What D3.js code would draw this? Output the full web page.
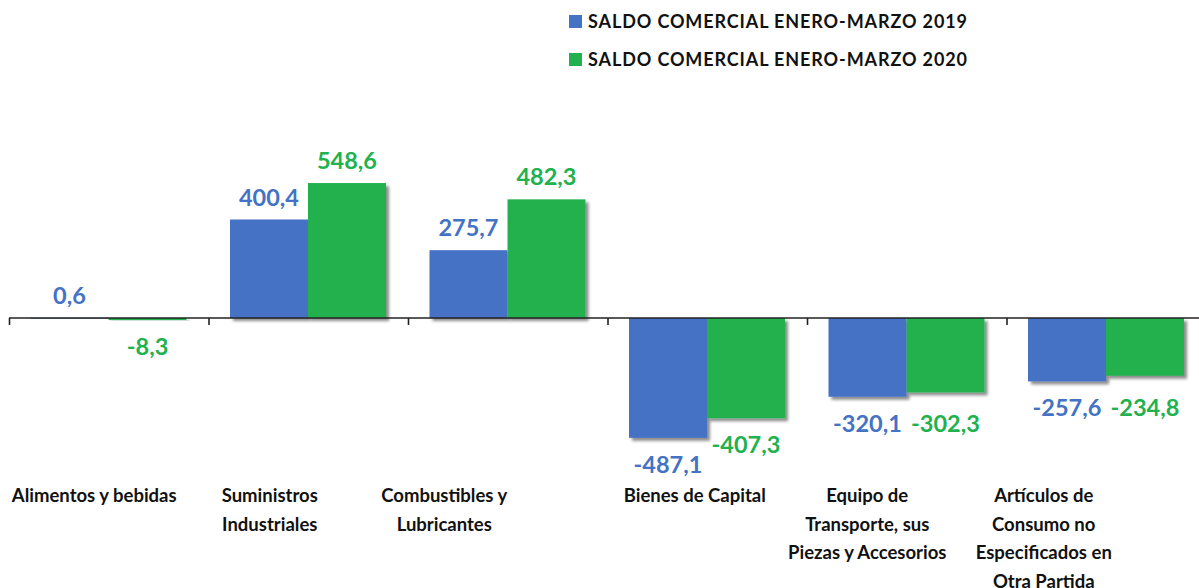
<!DOCTYPE html>
<html>
<head>
<meta charset="utf-8">
<script src="https://cdn.jsdelivr.net/npm/d3@7"></script>
<style>
  body { margin: 0; background: #fff; }
  svg { display: block; font-family: Lato, "Open Sans", sans-serif; }
</style>
</head>
<body>
<svg id="chart"></svg>
<script>
// chart data
const categories = [
  ["Alimentos y bebidas"],
  ["Suministros", "Industriales"],
  ["Combustibles y", "Lubricantes"],
  ["Bienes de Capital"],
  ["Equipo de", "Transporte, sus", "Piezas y Accesorios"],
  ["Artículos de", "Consumo no", "Especificados en", "Otra Partida"]
];
const seriesNames = ["SALDO COMERCIAL ENERO-MARZO 2019", "SALDO COMERCIAL ENERO-MARZO 2020"];
const values2019 = [0.6, 400.4, 275.7, -487.1, -320.1, -257.6];
const values2020 = [-8.3, 548.6, 482.3, -407.3, -302.3, -234.8];
const seriesColors = ["#4472C4", "#21B14E"];

const width = 1199, height = 588;
const svg = d3.select("#chart").attr("width", width).attr("height", height);

// drop shadow like the excel bars
const defs = svg.append("defs");
defs.append("filter").attr("id", "shadow")
    .attr("x", "-20%").attr("y", "-20%").attr("width", "150%").attr("height", "150%")
  .append("feDropShadow")
    .attr("dx", 3).attr("dy", 3).attr("stdDeviation", 1.8)
    .attr("flood-color", "#000").attr("flood-opacity", 0.45);

const catKeys = d3.range(categories.length);
const x = d3.scaleBand().domain(catKeys).range([9.5, 1206.5]).padding(0);
const xSub = d3.scaleBand().domain([0, 1]).range([21, 177]).padding(0);
const y = d3.scaleLinear().domain([-600, 600]).range([465.6, 170.4]);

const series = [values2019, values2020];

// bars
series.forEach((vals, s) => {
  svg.append("g").selectAll("rect")
    .data(vals)
    .join("rect")
      .attr("x", (d, i) => x(i) + xSub(s))
      .attr("width", xSub.bandwidth())
      .attr("y", d => Math.min(y(d), y(0)))
      .attr("height", d => Math.max(Math.abs(y(d) - y(0)), 0.8))
      .attr("fill", seriesColors[s])
      .attr("filter", "url(#shadow)");
});

// axis line + ticks
const axisY = y(0);
svg.append("line")
    .attr("x1", 9).attr("x2", width).attr("y1", axisY).attr("y2", axisY)
    .attr("stroke", "#222").attr("stroke-width", 1.6);
svg.append("g").selectAll("line")
  .data(catKeys.concat([categories.length]))
  .join("line")
    .attr("x1", i => i < categories.length ? x(i) : x.range()[1])
    .attr("x2", i => i < categories.length ? x(i) : x.range()[1])
    .attr("y1", axisY).attr("y2", axisY + 7)
    .attr("stroke", "#222").attr("stroke-width", 1.6);

// value labels (plain hyphen, decimal comma)
const fmt = v => d3.format(".1f")(v).replace("\u2212", "-").replace(".", ",");
series.forEach((vals, s) => {
  svg.append("g").selectAll("text")
    .data(vals)
    .join("text")
      .attr("x", (d, i) => x(i) + xSub(s) + xSub.bandwidth() / 2)
      .attr("y", (d, i) => {
        if (d >= 0) return y(d) - 14;
        // keep negative pairs on one line when their bars end close together
        const other = series[1 - s][i];
        if (other < 0 && Math.abs(y(other) - y(d)) < 15) return Math.max(y(d), y(other)) + 35;
        return y(d) + 35;
      })
      .attr("text-anchor", "middle")
      .attr("font-size", 23.5)
      .attr("font-weight", 700)
      .attr("fill", seriesColors[s])
      .text(d => fmt(d));
});

// category labels (excel wrapped them off-centre)
const labelShift = [15, 39, 64, 13, 40, 63];
const catLabels = svg.append("g").selectAll("text")
  .data(categories)
  .join("text")
    .attr("x", (d, i) => x(i) + x.bandwidth() / 2 - labelShift[i])
    .attr("y", 502)
    .attr("text-anchor", "middle")
    .attr("font-size", 18.5)
    .attr("font-weight", 700)
    .attr("fill", "#111");
catLabels.each(function(lines) {
  const t = d3.select(this);
  const cx = t.attr("x");
  lines.forEach((line, k) => {
    t.append("tspan").attr("x", cx).attr("dy", k === 0 ? 0 : 28.5).text(line);
  });
});

// legend
const legend = svg.append("g").selectAll("g")
  .data(seriesNames)
  .join("g")
    .attr("transform", (d, i) => `translate(569, ${15 + i * 38})`);
legend.append("rect")
    .attr("width", 13).attr("height", 13)
    .attr("fill", (d, i) => seriesColors[i]);
legend.append("text")
    .attr("x", 19).attr("y", 12.5)
    .attr("font-size", 18)
    .attr("font-weight", 700)
    .attr("fill", "#111")
    .attr("textLength", 379)
    .attr("lengthAdjust", "spacing")
    .text(d => d);
</script>
</body>
</html>
